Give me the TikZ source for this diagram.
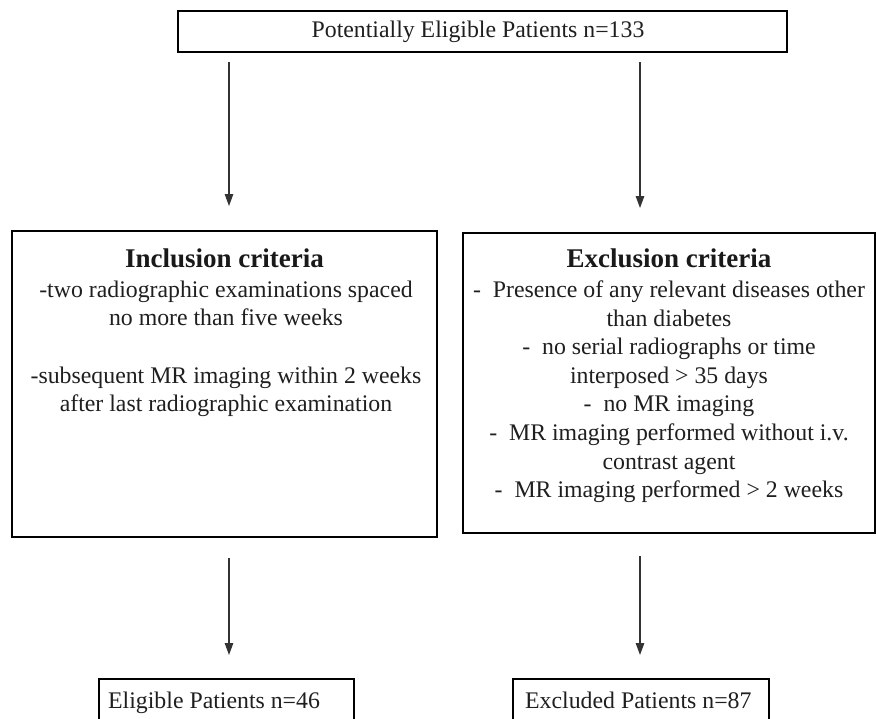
\documentclass[tikz,border=0pt]{standalone}
\usepackage{fontspec}
\setmainfont{Liberation Serif}
\usetikzlibrary{arrows.meta,calc}
\begin{document}
\begin{tikzpicture}[x=1pt,y=-1pt,
  box/.style={draw=black,line width=2.2pt,inner sep=0pt,outer sep=0pt,rectangle},
  txt/.style={inner sep=0pt,font=\fontsize{23.8}{28.6}\selectfont,text=black!88},
  ttl/.style={inner sep=0pt,font=\fontsize{27}{30}\selectfont\bfseries,text=black!90},
  arr/.style={draw=black!80,line width=1.2pt,-{Triangle[length=12pt,width=8.5pt]}}]
\clip (0,0) rectangle (876,718);
\fill[white] (0,0) rectangle (876,718);
% boxes
\node[box,minimum width=609,minimum height=41] (top) at (482.5,31.5) {};
\node[box,minimum width=425,minimum height=306] (incl) at (224.5,384) {};
\node[box,minimum width=412,minimum height=300] (excl) at (669,383) {};
\node[box,minimum width=255,minimum height=62] (elig) at (226.5,710) {};
\node[box,minimum width=256,minimum height=62] (exclp) at (641,710) {};
% texts
\node[txt] (toptext) at (478,32) {Potentially Eligible Patients n=133};
\node[ttl,anchor=base] (incltitle) at (224.5,267.5) {Inclusion criteria};
\node[ttl,anchor=base] (excltitle) at (669,267.5) {Exclusion criteria};
\node[txt,align=center,anchor=north] (incltext) at (226,280.5)
  {-two radiographic examinations spaced\\ no more than five weeks\\[28.6pt]
   -subsequent MR imaging within 2 weeks\\ after last radiographic examination};
\node[txt,align=center,anchor=north] (excltext) at (669,280.5)
  {-~~Presence of any relevant diseases other\\ than diabetes\\
   -~~no serial radiographs or time\\ interposed > 35 days\\
   -~~no MR imaging\\ -~~MR imaging performed without i.v.\\
   contrast agent\\ -~~MR imaging performed > 2 weeks};
\node[txt,anchor=base west] (eligtext) at (108,708) {Eligible Patients n=46};
\node[txt,anchor=base west] (exclptext) at (525,708) {Excluded Patients n=87};
% connectors
\coordinate (lx) at (229,0);
\coordinate (rx) at (640,0);
\draw[arr,shorten <=10pt,shorten >=25pt] (top.south -| lx) -- (incl.north -| lx);
\draw[arr,shorten <=10pt,shorten >=25pt] (top.south -| rx) -- (excl.north -| rx);
\draw[arr,shorten <=21pt,shorten >=24pt] (incl.south -| lx) -- (elig.north -| lx);
\draw[arr,shorten <=23pt,shorten >=24pt] (excl.south -| rx) -- (exclp.north -| rx);
\end{tikzpicture}
\end{document}
